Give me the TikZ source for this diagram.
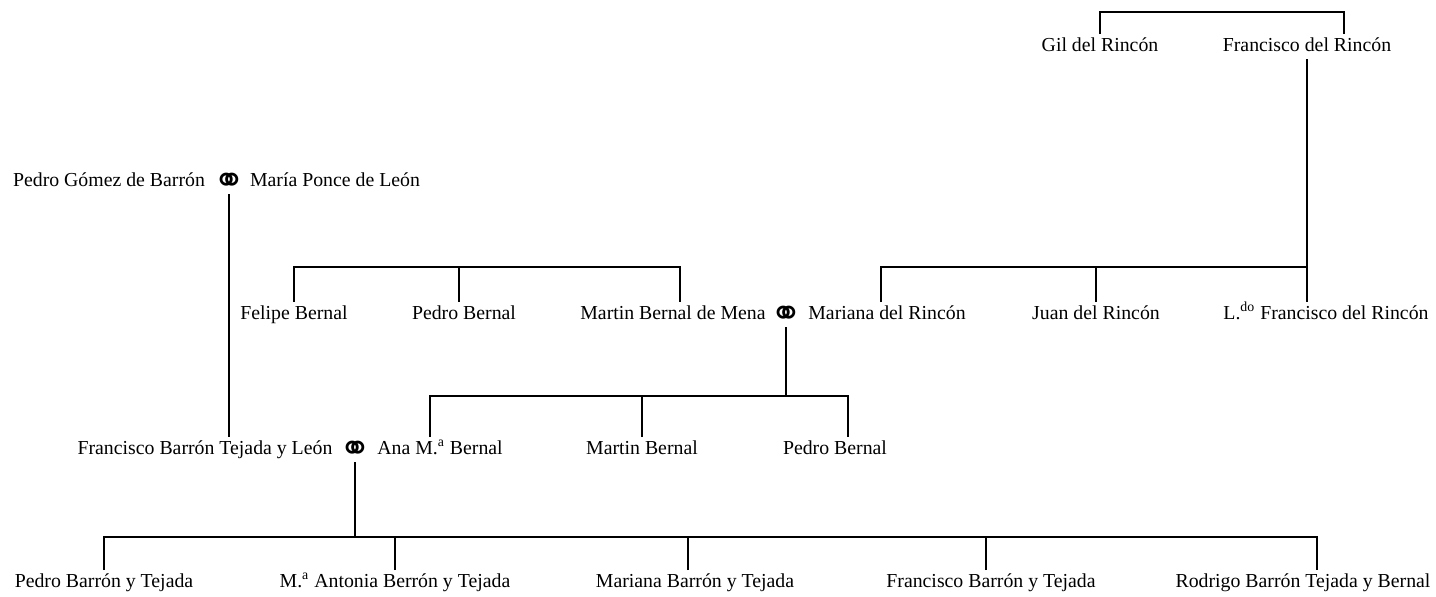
\documentclass[tikz,border=0pt]{standalone}
\usepackage{fontspec}
\setmainfont{Liberation Serif}
\newfontfamily\symbfont{DejaVu Sans}

\begin{document}
\begin{tikzpicture}[x=0.5pt,y=-0.5pt,line width=0.8pt,
	person/.style={inner sep=0pt,outer sep=2pt,anchor=base,text height=6.5pt,text depth=2pt,font=\fontsize{9.9pt}{12pt}\selectfont},
	wed/.style={person,font=\symbfont\fontsize{19pt}{20pt}\selectfont}]
	\useasboundingbox (0,0) rectangle (1436,596);
	% levels of the bars
	\coordinate (lvA) at (0,12);
	\coordinate (lvC) at (0,267);
	\coordinate (lvD) at (0,396);
	\coordinate (lvE) at (0,537);

	% Rincon
	\node [person] (gil) at (1100,51) {Gil del Rincón};
	\node [person] (frd) at (1307,51) {Francisco del Rincón};

	% Barron
	\node [person] (pgb) at (109,186) {Pedro Gómez de Barrón};
	\node [wed] (w1) at (229,186) {\raisebox{-3.5pt}{⚭}};
	\node [person] (mpl) at (335,186) {María Ponce de León};

	% Bernal and Rincon children
	\node [person] (fel) at (294,319) {Felipe Bernal};
	\node [person] (pbc) at (464,319) {Pedro Bernal};
	\node [person] (mbm) at (673,319) {Martin Bernal de Mena};
	\node [wed] (w2) at (786,319) {\raisebox{-3.5pt}{⚭}};
	\node [person] (mrn) at (887,319) {Mariana del Rincón};
	\node [person] (jrn) at (1096,319) {Juan del Rincón};
	\node [person] (ldo) at (1326,319) {L.\textsuperscript{do} Francisco del Rincón};

	% generation D
	\node [person] (fbt) at (205,454) {Francisco Barrón Tejada y León};
	\node [wed] (w3) at (355,454) {\raisebox{-3.5pt}{⚭}};
	\node [person] (ana) at (440,454) {Ana M.\textsuperscript{a} Bernal};
	\node [person] (mbd) at (642,454) {Martin Bernal};
	\node [person] (pbd) at (835,454) {Pedro Bernal};

	% generation E
	\node [person] (e1) at (104,587) {Pedro Barrón y Tejada};
	\node [person] (e2) at (395,587) {M.\textsuperscript{a} Antonia Berrón y Tejada};
	\node [person] (e3) at (695,587) {Mariana Barrón y Tejada};
	\node [person] (e4) at (991,587) {Francisco Barrón y Tejada};
	\node [person] (e5) at (1303,587) {Rodrigo Barrón Tejada y Bernal};

	% drop points off the centre
	\coordinate (frdT) at ([xshift=18.5pt]frd.north);
	\coordinate (pbcT) at ([xshift=-2.5pt]pbc.north);
	\coordinate (mbmT) at ([xshift=3.5pt]mbm.north);
	\coordinate (mrnT) at ([xshift=-3pt]mrn.north);
	\coordinate (anaT) at ([xshift=-5pt]ana.north);
	\coordinate (pbdT) at ([xshift=6.5pt]pbd.north);
	\coordinate (e3T) at ([xshift=-3.5pt]e3.north);
	\coordinate (e4T) at ([xshift=-2.5pt]e4.north);
	\coordinate (e5T) at ([xshift=7pt]e5.north);

	\draw (gil.north) |- (frdT |- lvA) -- (frdT);
	\draw (frd.south) -- (frd.south |- ldo.north);
	\draw (mrnT) |- (frd.south |- lvC);
	\draw (jrn.north) -- (jrn.north |- lvC);

	\draw (fel.north) |- (mbmT |- lvC) -- (mbmT);
	\draw (pbcT) -- (pbcT |- lvC);

	\draw (w1.south) -- (w1.south |- fbt.north);
	\draw (w2.south) -- (w2.south |- lvD);
	\draw (anaT) |- (pbdT |- lvD) -- (pbdT);
	\draw (mbd.north) -- (mbd.north |- lvD);

	\draw (w3.south) -- (w3.south |- lvE);
	\draw (e1.north) |- (e5T |- lvE) -- (e5T);
	\draw (e2.north) -- (e2.north |- lvE);
	\draw (e3T) -- (e3T |- lvE);
	\draw (e4T) -- (e4T |- lvE);

\end{tikzpicture}
\end{document}
